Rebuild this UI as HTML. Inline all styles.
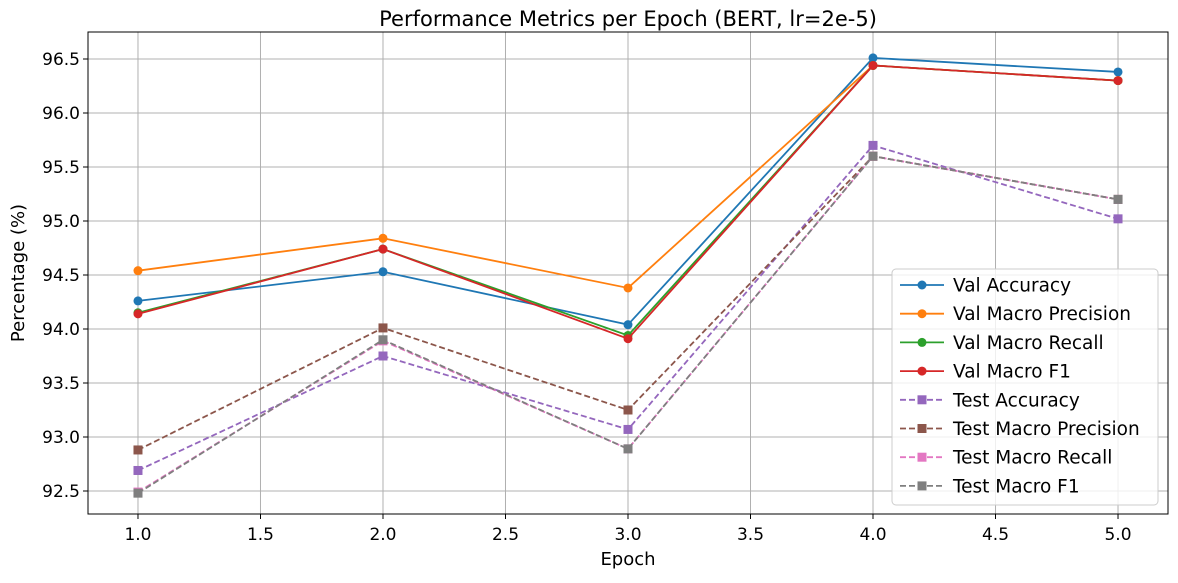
<!DOCTYPE html>
<html><head><meta charset="utf-8"><style>
body{margin:0;background:#fff}
svg text{font-family:"DejaVu Sans","Liberation Sans",sans-serif;fill:#000}
</style></head><body>
<svg id="chart" width="1178" height="578" xmlns="http://www.w3.org/2000/svg"></svg>
<script>
const epochs=[1,2,3,4,5];
const valAcc=[94.26,94.53,94.04,96.51,96.38];
const valPrec=[94.54,94.84,94.38,96.44,96.30];
const valRec=[94.15,94.74,93.94,96.44,96.30];
const valF1=[94.14,94.74,93.91,96.44,96.30];
const testAcc=[92.69,93.75,93.07,95.70,95.02];
const testPrec=[92.88,94.01,93.25,95.60,95.20];
const testRec=[92.49,93.89,92.89,95.60,95.20];
const testF1=[92.48,93.90,92.89,95.60,95.20];
const xTicks=[1.0,1.5,2.0,2.5,3.0,3.5,4.0,4.5,5.0];
const yTicks=[92.5,93.0,93.5,94.0,94.5,95.0,95.5,96.0,96.5];
const seriesNames=["Val Accuracy","Val Macro Precision","Val Macro Recall","Val Macro F1","Test Accuracy","Test Macro Precision","Test Macro Recall","Test Macro F1"];
const seriesData=[valAcc,valPrec,valRec,valF1,testAcc,testPrec,testRec,testF1];
const colors=["#1f77b4","#ff7f0e","#2ca02c","#d62728","#9467bd","#8c564b","#e377c2","#7f7f7f"];

const L=88,R=1168,T=32,B=514;
const xmin=0.796,xmax=5.204,ymin=92.287,ymax=96.75;
const xs=v=>L+(v-xmin)/(xmax-xmin)*(R-L);
const ys=v=>B-(v-ymin)/(ymax-ymin)*(B-T);
const svg=document.getElementById('chart');
const NS="http://www.w3.org/2000/svg";
function mk(tag,attrs,parent){const e=document.createElementNS(NS,tag);for(const k in attrs)e.setAttribute(k,attrs[k]);(parent||svg).appendChild(e);return e;}

xTicks.forEach(t=>{
  const g=mk('line',{x1:xs(t),x2:xs(t),y1:T,y2:B,stroke:'#b0b0b0','stroke-width':1});
  
  
  mk('line',{x1:xs(t),x2:xs(t),y1:B,y2:B+5,stroke:'#000'});
  const tx=mk('text',{x:xs(t),y:B+26,'text-anchor':'middle','font-size':17});
  tx.textContent=t.toFixed(1);
  
  
});
yTicks.forEach(t=>{
  const g=mk('line',{x1:L,x2:R,y1:ys(t),y2:ys(t),stroke:'#b0b0b0','stroke-width':1});
  
  
  mk('line',{x1:L-5,x2:L,y1:ys(t),y2:ys(t),stroke:'#000'});
  const tx=mk('text',{x:L-8,y:ys(t)+6,'text-anchor':'end','font-size':17});
  tx.textContent=t.toFixed(1);
  
  
});

seriesData.forEach((d,i)=>{
  const g=mk('g',{});
  
  
  const dashed=i>=4;
  const pts=d.map((v,j)=>xs(epochs[j])+','+ys(v)).join(' ');
  mk('polyline',{points:pts,fill:'none',stroke:colors[i],'stroke-width':1.8,'stroke-dasharray':dashed?'6,3':'none'},g);
  d.forEach((v,j)=>{
    let m;
    if(dashed) m=mk('rect',{x:xs(epochs[j])-4.5,y:ys(v)-4.5,width:9,height:9,fill:colors[i]},g);
    else m=mk('circle',{cx:xs(epochs[j]),cy:ys(v),r:4.5,fill:colors[i]},g);
    
    
  });
});

mk('rect',{x:L,y:T,width:R-L,height:B-T,fill:'none',stroke:'#000','stroke-width':1});

let t=mk('text',{x:(L+R)/2,y:26,'text-anchor':'middle','font-size':21});
t.textContent='Performance Metrics per Epoch (BERT, lr=2e-5)';


t=mk('text',{x:(L+R)/2,y:565,'text-anchor':'middle','font-size':18});
t.textContent='Epoch';


t=mk('text',{x:0,y:0,'text-anchor':'middle','font-size':18,transform:'translate(24,'+(T+B)/2+') rotate(-90)'});
t.textContent='Percentage (%)';



const lg=mk('g',{});


mk('rect',{x:892,y:269,width:266,height:236,rx:4,fill:'#fff','fill-opacity':0.8,stroke:'#ccc'},lg);
seriesNames.forEach((n,i)=>{
  const y=285+i*28.7;
  const e=mk('g',{},lg);
  
  
  mk('line',{x1:900,x2:944,y1:y,y2:y,stroke:colors[i],'stroke-width':1.8,'stroke-dasharray':i>=4?'6,3':'none'},e);
  if(i>=4) mk('rect',{x:917.5,y:y-4.5,width:9,height:9,fill:colors[i]},e);
  else mk('circle',{cx:922,cy:y,r:4.5,fill:colors[i]},e);
  const tx=mk('text',{x:953,y:y+6.5,'font-size':18.5},e);
  tx.textContent=n;
});
</script>
</body></html>
